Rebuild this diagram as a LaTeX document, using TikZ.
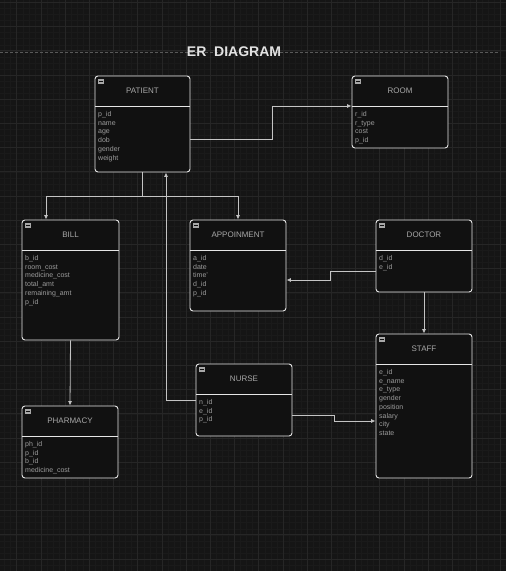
\documentclass[tikz,border=0pt]{standalone}
\usepackage{fontspec}
\setmainfont{Liberation Sans}
\usetikzlibrary{arrows.meta,fit,calc}
\definecolor{bgc}{HTML}{151515}
\definecolor{gridminor}{HTML}{1A1A1A}
\definecolor{gridmajor}{HTML}{262626}
\definecolor{boxfill}{HTML}{111111}
\definecolor{boxline}{HTML}{E6E6E6}
\definecolor{titlec}{HTML}{A8A8A8}
\definecolor{attrc}{HTML}{9C9C9C}
\definecolor{connc}{HTML}{C4C4C4}
\definecolor{headc}{HTML}{E2E2E2}
\tikzset{
  ebox/.style={draw=boxline, fill=boxfill, line width=0.9pt, rounded corners=3pt, inner sep=0pt},
  divline/.style={draw=boxline, line width=0.9pt},
  etitle/.style={text=titlec, font=\fontsize{8}{9}\selectfont, inner sep=0pt},
  attr/.style={text=attrc, font=\fontsize{7}{8}\selectfont, inner sep=0pt},
  conn/.style={draw=connc, line width=0.8pt, -{Latex[length=4.5pt,width=4pt]}},
  icon/.style={fill=titlec, draw=none},
}
\newcommand\entity[8]{%
  \node[ebox, fit={(#2,#3) (#4,#5)}] (#1) {};
  \draw[divline] (#2,#6) -- (#4,#6);
  \node[etitle] (#1-title) at ({(#2+#4)/2},{(#3+#6)/2}) {#7};
  \fill[icon] (#2+3,#3+3) rectangle (#2+9,#3+8);
  \draw[boxfill, line width=0.7pt] (#2+4.3,#3+5.5) -- (#2+7.7,#3+5.5);
  \foreach \a [count=\i] in {#8} {
    \node[attr, anchor=base west] at (#2+3,{#6+10.5+(\i-1)*8.7}) {\a};
  }%
}
\begin{document}
\begin{tikzpicture}[x=1pt,y=-1pt]
\useasboundingbox (0,0) rectangle (506,571);
\fill[bgc] (0,0) rectangle (506,571);
% grid
\foreach \k in {-2,...,84} {
  \draw[gridminor, line width=0.5pt] ({16.7+\k*6.05},0) -- ({16.7+\k*6.05},571);
}
\foreach \k in {-1,...,95} {
  \draw[gridminor, line width=0.5pt] (0,{2.4+\k*6.05}) -- (506,{2.4+\k*6.05});
}
\foreach \k in {0,...,20} {
  \draw[gridmajor, line width=0.7pt] ({16.7+\k*24.2},0) -- ({16.7+\k*24.2},571);
}
\foreach \k in {0,...,23} {
  \draw[gridmajor, line width=0.7pt] (0,{2.4+\k*24.2}) -- (506,{2.4+\k*24.2});
}
% page break line
\draw[color=gray!70!black, line width=0.7pt, dash pattern=on 3pt off 2pt] (0,52) -- (500,52);
\node[text=headc, font=\fontsize{14}{16}\bfseries\selectfont, inner sep=0pt] (title) at (234,52) {ER\ \ DIAGRAM};

\entity{patient}{95}{76}{190}{172}{106}{PATIENT}{p\_id,name,age,dob,gender,weight}
\entity{room}{352}{76}{448}{148}{106}{ROOM}{r\_id,r\_type,cost,p\_id}
\entity{bill}{22}{220}{119}{340}{250}{BILL}{b\_id,room\_cost,medicine\_cost,total\_amt,remaining\_amt,p\_id}
\entity{appoin}{190}{220}{286}{311}{250}{APPOINMENT}{a\_id,date,time',d\_id,p\_id}
\entity{doctor}{376}{220}{472}{292}{250}{DOCTOR}{d\_id,e\_id}
\entity{nurse}{196}{364}{292}{436}{394}{NURSE}{n\_id,e\_id,p\_id}
\entity{staff}{376}{334}{472}{478}{364}{STAFF}{e\_id,e\_name,e\_type,gender,position,salary,city,state}
\entity{pharmacy}{22}{406}{118}{478}{436}{PHARMACY}{ph\_id,p\_id,b\_id,medicine\_cost}

% connectors
\draw[conn] ([yshift=-15pt]patient.east) -- ++(82,0) |- ([yshift=6pt]room.west);
\coordinate (split) at ($(patient.south)+(0,24)$);
\draw[conn] (patient.south) -- (split) -| ([xshift=-24.5pt]bill.north);
\draw[conn] (split) -| (appoin.north);
\draw[conn] (nurse.west) -| ([xshift=23.5pt]patient.south);
\draw[conn] ([yshift=-15pt]doctor.west) -- ++(-45,0) |- ([yshift=-14.5pt]appoin.east);
\draw[conn] (doctor.south) -- (staff.north);
\draw[conn] (bill.south) -- (pharmacy.north);
\draw[conn] ([yshift=-15pt]nurse.east) -- ++(42,0) |- ([yshift=-15pt]staff.west);
\end{tikzpicture}
\end{document}
